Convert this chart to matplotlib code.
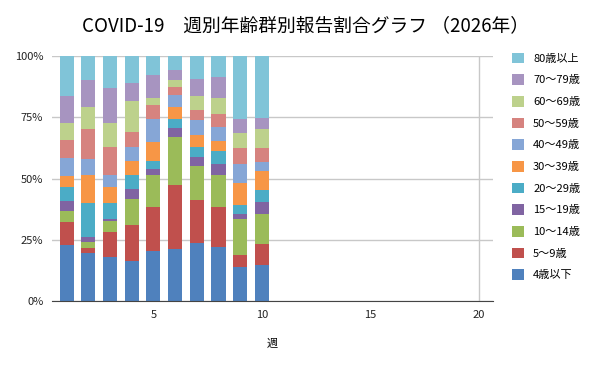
import numpy as np
import matplotlib
matplotlib.use("Agg")
import matplotlib.pyplot as plt
from matplotlib.ticker import PercentFormatter

plt.rcParams['font.family'] = ['Noto Sans CJK JP', 'DejaVu Sans']

# weeks reported so far
weeks = [1, 2, 3, 4, 5, 6, 7, 8, 9, 10]

# age groups (bottom -> top) and their share (%) per week
groups = ["4歳以下", "5～9歳", "10～14歳", "15～19歳", "20～29歳", "30～39歳",
          "40～49歳", "50～59歳", "60～69歳", "70～79歳", "80歳以上"]
age_0_4 = [23.0, 19.5, 18.2, 16.3, 20.4, 21.4, 23.9, 22.3, 14.1, 14.9]
age_5_9 = [9.4, 2.3, 10.2, 14.9, 17.9, 26.1, 17.5, 16.0, 4.9, 8.6]
age_10_14 = [4.5, 2.5, 4.4, 10.6, 13.3, 19.5, 13.8, 13.3, 14.6, 12.2]
age_15_19 = [4.0, 2.0, 0.9, 4.1, 2.4, 3.7, 3.7, 4.4, 2.1, 4.9]
age_20_29 = [5.5, 13.9, 6.2, 5.7, 3.0, 3.7, 4.1, 5.3, 3.6, 4.9]
age_30_39 = [4.8, 11.2, 6.5, 5.7, 8.1, 4.8, 4.6, 4.1, 9.0, 7.7]
age_40_49 = [7.4, 6.7, 5.0, 5.4, 9.3, 4.9, 6.5, 5.7, 7.7, 3.7]
age_50_59 = [7.2, 12.2, 11.6, 6.4, 5.7, 3.3, 3.9, 5.3, 6.6, 5.7]
age_60_69 = [6.9, 8.9, 9.7, 12.6, 2.9, 2.8, 5.7, 6.5, 6.1, 7.7]
age_70_79 = [11.0, 11.0, 14.4, 7.3, 9.3, 4.1, 6.9, 8.6, 5.7, 4.5]
age_80 = [16.3, 9.8, 12.9, 11.0, 7.7, 5.7, 9.4, 8.5, 25.6, 25.2]

colors = ["#4F81BD", "#C0504D", "#9BBB59", "#8064A2", "#4BACC6", "#F79646",
          "#86A6D6", "#D6837F", "#BDD18C", "#A794C0", "#80C4D8"]

series = [age_0_4, age_5_9, age_10_14, age_15_19, age_20_29, age_30_39,
          age_40_49, age_50_59, age_60_69, age_70_79, age_80]

fig = plt.figure(figsize=(6, 3.71), dpi=100)
ax = fig.add_axes([0.086, 0.188, 0.736, 0.661])

# normalise each week to 100%
data = np.array(series, dtype=float)
data = data / data.sum(axis=0) * 100

bottom = np.zeros(len(weeks))
handles = []
for i in range(len(groups)):
    b = ax.bar(weeks, data[i], 0.65, bottom=bottom, color=colors[i], label=groups[i], zorder=3)
    handles.append(b)
    bottom += data[i]

ax.set_xlim(0.31, 20.66)
ax.set_ylim(0, 100)
ax.set_yticks([0, 25, 50, 75, 100])
ax.yaxis.set_major_formatter(PercentFormatter(decimals=0))
ax.set_xticks([5, 10, 15, 20])
ax.grid(axis="y", color="#c8c8c8", linewidth=1, zorder=0)
ax.axvline(20, color="#c8c8c8", linewidth=1, zorder=0)
ax.tick_params(length=0, labelsize=8, colors="#222222", pad=6)
for s in ["top", "right", "left"]:
    ax.spines[s].set_visible(False)
ax.spines["bottom"].set_color("#444444")
ax.spines["bottom"].set_zorder(4)

ax.set_xlabel("週", fontsize=8, labelpad=14)

fig.suptitle("COVID-19　週別年齢群別報告割合グラフ （2026年）", fontsize=13.5, y=0.96, x=0.51)

leg = ax.legend(handles[::-1], groups[::-1], loc="upper left", bbox_to_anchor=(1.02, 1.055),
                frameon=False, fontsize=8, handlelength=1.1, handleheight=1.1,
                labelspacing=0.95, handletextpad=0.8)

fig.savefig("out.png", dpi=100)
